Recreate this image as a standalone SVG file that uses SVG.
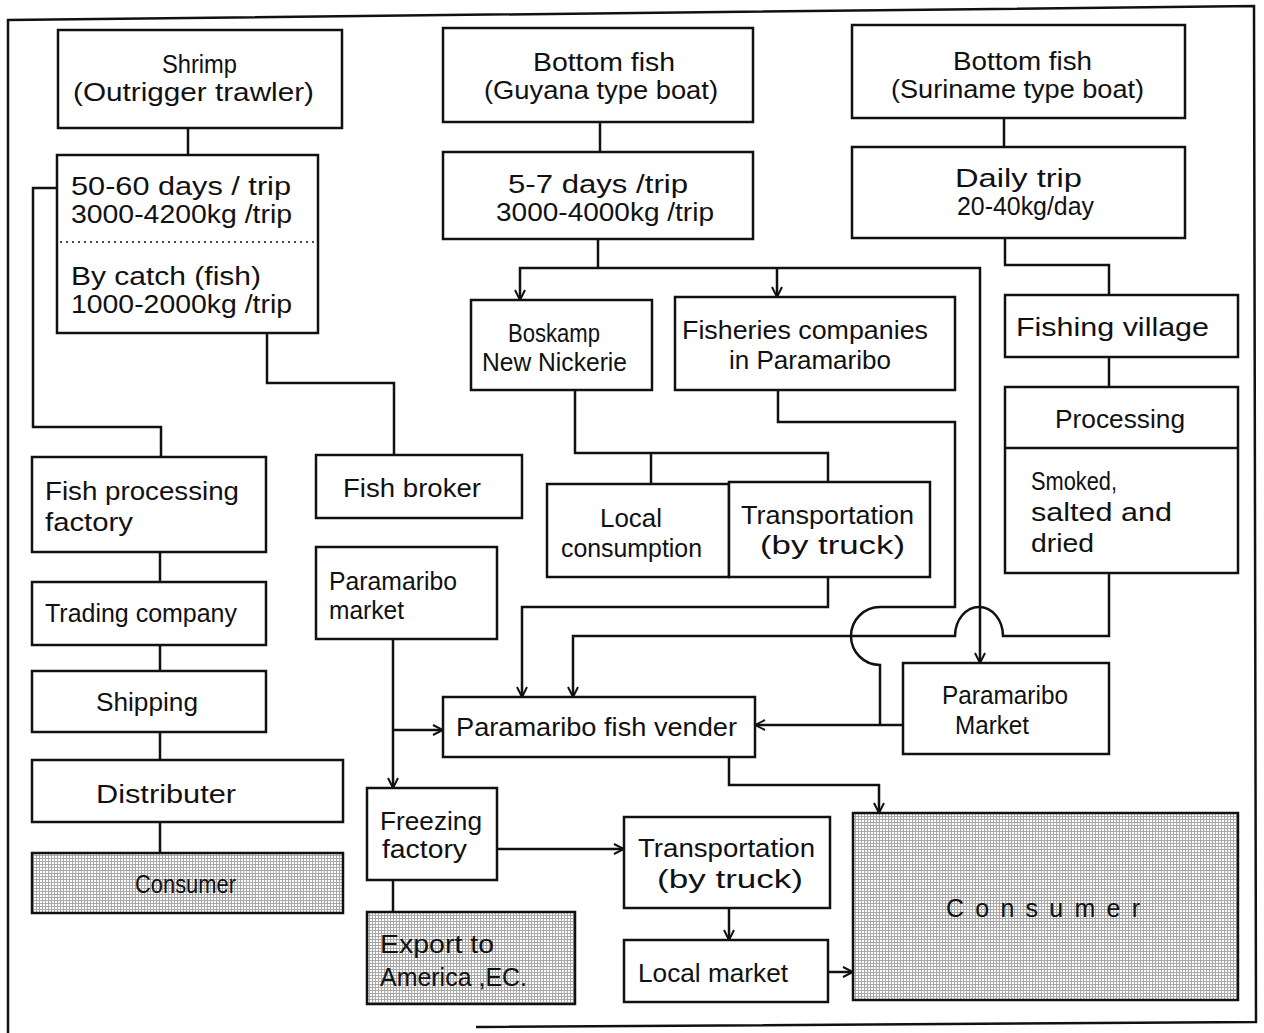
<svg xmlns="http://www.w3.org/2000/svg" width="1264" height="1033" viewBox="0 0 1264 1033">
<style>
.box{fill:#fff;stroke:#111;stroke-width:2.5}
.shade{fill:url(#screen);stroke:#111;stroke-width:2.5}
.t{font-family:"Liberation Sans",Arial,sans-serif;font-size:25px;fill:#111}
.c{fill:none;stroke:#111;stroke-width:2.5}
.a{marker-end:url(#arr)}
.dot{stroke:#111;stroke-width:1.5;stroke-dasharray:2 4}
</style>
<defs>
<pattern id="screen" patternUnits="userSpaceOnUse" width="3" height="3">
<rect width="3" height="3" fill="#fff"/>
<rect width="3" height="1" fill="#a8a8a8"/>
<rect width="1" height="3" fill="#a8a8a8"/>
</pattern>
<marker id="arr" markerUnits="userSpaceOnUse" markerWidth="14" markerHeight="14" refX="12" refY="7" orient="auto">
<path d="M2,2 L12,7 L2,12" fill="none" stroke="#111" stroke-width="2"/>
</marker>
</defs>
<rect width="1264" height="1033" fill="#fff"/>
<path class="c" d="M8,1033 V20 L1254,6 L1256,1022 L476,1027"/>

<g id="connectors">
<path class="c" d="M188,128 V155"/>
<path class="c" d="M57,188 H33 V427 H161 V457"/>
<path class="c" d="M267,333 V383 H394 V455"/>
<path class="c" d="M160,552 V582 M160,645 V671 M160,732 V760 M160,822 V853"/>
<path class="c" d="M600,122 V152"/>
<path class="c" d="M598,239 V268"/>
<path class="c a" d="M598,268 H520 V300"/>
<path class="c a" d="M598,268 H980 V663"/>
<path class="c a" d="M777,268 V297"/>
<path class="c" d="M1004,118 V147"/>
<path class="c" d="M1005,238 V265 H1109 V295"/>
<path class="c" d="M1109,357 V387"/>
<path class="c" d="M575,390 V453 H828 V482"/>
<path class="c" d="M651,453 V484"/>
<path class="c" d="M778,390 V422 H955 V607 H880 A29,29 0 0 0 880,665 V725"/>
<path class="c a" d="M903,725 H755"/>
<path class="c a" d="M828,577 V607 H522 V697"/>
<path class="c a" d="M1109,573 V636 H1003 A24,29 0 0 0 955,636 H573 V697"/>
<path class="c a" d="M393,639 V788"/>
<path class="c a" d="M393,730 H443"/>
<path class="c a" d="M729,757 V785 H879 V813"/>
<path class="c a" d="M497,849 H624"/>
<path class="c" d="M393,880 V912"/>
<path class="c a" d="M729,908 V940"/>
<path class="c a" d="M828,972 H853"/>
</g>

<g id="shrimp">
<rect class="box" x="58" y="30" width="284" height="98"/>
<text class="t" x="162" y="73" textLength="75" lengthAdjust="spacingAndGlyphs">Shrimp</text>
<text class="t" x="73" y="101" textLength="241" lengthAdjust="spacingAndGlyphs">(Outrigger trawler)</text>
</g>
<g id="shrimp-catch">
<rect class="box" x="57" y="155" width="261" height="178"/>
<line class="dot" x1="60" y1="242" x2="316" y2="242"/>
<text class="t" x="71" y="195" textLength="220" lengthAdjust="spacingAndGlyphs">50-60 days / trip</text>
<text class="t" x="71" y="223" textLength="221" lengthAdjust="spacingAndGlyphs">3000-4200kg /trip</text>
<text class="t" x="71" y="285" textLength="190" lengthAdjust="spacingAndGlyphs">By catch (fish)</text>
<text class="t" x="71" y="313" textLength="221" lengthAdjust="spacingAndGlyphs">1000-2000kg /trip</text>
</g>
<g id="guyana">
<rect class="box" x="443" y="28" width="310" height="94"/>
<text class="t" x="533" y="71" textLength="142" lengthAdjust="spacingAndGlyphs">Bottom fish</text>
<text class="t" x="484" y="99" textLength="234" lengthAdjust="spacingAndGlyphs">(Guyana type boat)</text>
</g>
<g id="guyana-catch">
<rect class="box" x="443" y="152" width="310" height="87"/>
<text class="t" x="508" y="193" textLength="180" lengthAdjust="spacingAndGlyphs">5-7 days /trip</text>
<text class="t" x="496" y="221" textLength="218" lengthAdjust="spacingAndGlyphs">3000-4000kg /trip</text>
</g>
<g id="suriname">
<rect class="box" x="852" y="25" width="333" height="93"/>
<text class="t" x="953" y="70" textLength="139" lengthAdjust="spacingAndGlyphs">Bottom fish</text>
<text class="t" x="891" y="98" textLength="253" lengthAdjust="spacingAndGlyphs">(Suriname type boat)</text>
</g>
<g id="daily-trip">
<rect class="box" x="852" y="147" width="333" height="91"/>
<text class="t" x="955" y="187" textLength="127" lengthAdjust="spacingAndGlyphs">Daily trip</text>
<text class="t" x="957" y="215" textLength="137" lengthAdjust="spacingAndGlyphs">20-40kg/day</text>
</g>
<g id="boskamp">
<rect class="box" x="471" y="300" width="181" height="90"/>
<text class="t" x="508" y="342" textLength="92" lengthAdjust="spacingAndGlyphs">Boskamp</text>
<text class="t" x="482" y="371" textLength="145" lengthAdjust="spacingAndGlyphs">New Nickerie</text>
</g>
<g id="fisheries-companies">
<rect class="box" x="675" y="297" width="280" height="93"/>
<text class="t" x="682" y="339" textLength="246" lengthAdjust="spacingAndGlyphs">Fisheries companies</text>
<text class="t" x="729" y="369" textLength="162" lengthAdjust="spacingAndGlyphs">in Paramaribo</text>
</g>
<g id="fishing-village">
<rect class="box" x="1005" y="295" width="233" height="62"/>
<text class="t" x="1016" y="336" textLength="193" lengthAdjust="spacingAndGlyphs">Fishing village</text>
</g>
<g id="processing">
<rect class="box" x="1005" y="387" width="233" height="186"/>
<line class="c" x1="1005" y1="448" x2="1238" y2="448"/>
<text class="t" x="1055" y="428" textLength="130" lengthAdjust="spacingAndGlyphs">Processing</text>
<text class="t" x="1031" y="490" textLength="86" lengthAdjust="spacingAndGlyphs">Smoked,</text>
<text class="t" x="1031" y="521" textLength="141" lengthAdjust="spacingAndGlyphs">salted  and</text>
<text class="t" x="1031" y="552" textLength="63" lengthAdjust="spacingAndGlyphs">dried</text>
</g>
<g id="local-consumption">
<rect class="box" x="547" y="484" width="182" height="93"/>
<text class="t" x="600" y="527" textLength="62" lengthAdjust="spacingAndGlyphs">Local</text>
<text class="t" x="561" y="557" textLength="141" lengthAdjust="spacingAndGlyphs">consumption</text>
</g>
<g id="transportation-1">
<rect class="box" x="729" y="482" width="201" height="95"/>
<text class="t" x="741" y="524" textLength="173" lengthAdjust="spacingAndGlyphs">Transportation</text>
<text class="t" x="760" y="554" textLength="145" lengthAdjust="spacingAndGlyphs">(by truck)</text>
</g>
<g id="fish-processing-factory">
<rect class="box" x="32" y="457" width="234" height="95"/>
<text class="t" x="45" y="500" textLength="194" lengthAdjust="spacingAndGlyphs">Fish processing</text>
<text class="t" x="45" y="531" textLength="88" lengthAdjust="spacingAndGlyphs">factory</text>
</g>
<g id="trading-company">
<rect class="box" x="32" y="582" width="234" height="63"/>
<text class="t" x="45" y="622" textLength="192" lengthAdjust="spacingAndGlyphs">Trading company</text>
</g>
<g id="shipping">
<rect class="box" x="32" y="671" width="234" height="61"/>
<text class="t" x="96" y="711" textLength="102" lengthAdjust="spacingAndGlyphs">Shipping</text>
</g>
<g id="distributer">
<rect class="box" x="32" y="760" width="311" height="62"/>
<text class="t" x="96" y="803" textLength="140" lengthAdjust="spacingAndGlyphs">Distributer</text>
</g>
<g id="consumer-1">
<rect class="shade" x="32" y="853" width="311" height="60"/>
<text class="t" x="135" y="893" textLength="101" lengthAdjust="spacingAndGlyphs">Consumer</text>
</g>
<g id="fish-broker">
<rect class="box" x="316" y="455" width="206" height="63"/>
<text class="t" x="343" y="497" textLength="138" lengthAdjust="spacingAndGlyphs">Fish broker</text>
</g>
<g id="paramaribo-market-1">
<rect class="box" x="316" y="547" width="181" height="92"/>
<text class="t" x="329" y="590" textLength="128" lengthAdjust="spacingAndGlyphs">Paramaribo</text>
<text class="t" x="329" y="619" textLength="75" lengthAdjust="spacingAndGlyphs">market</text>
</g>
<g id="fish-vender">
<rect class="box" x="443" y="697" width="312" height="60"/>
<text class="t" x="456" y="736" textLength="281" lengthAdjust="spacingAndGlyphs">Paramaribo fish vender</text>
</g>
<g id="paramaribo-market-2">
<rect class="box" x="903" y="663" width="206" height="91"/>
<text class="t" x="942" y="704" textLength="126" lengthAdjust="spacingAndGlyphs">Paramaribo</text>
<text class="t" x="955" y="734" textLength="74" lengthAdjust="spacingAndGlyphs">Market</text>
</g>
<g id="freezing-factory">
<rect class="box" x="367" y="788" width="130" height="92"/>
<text class="t" x="380" y="830" textLength="102" lengthAdjust="spacingAndGlyphs">Freezing</text>
<text class="t" x="382" y="858" textLength="85" lengthAdjust="spacingAndGlyphs">factory</text>
</g>
<g id="export">
<rect class="shade" x="367" y="912" width="208" height="92"/>
<text class="t" x="380" y="953" textLength="114" lengthAdjust="spacingAndGlyphs">Export to</text>
<text class="t" x="380" y="986" textLength="147" lengthAdjust="spacingAndGlyphs">America ,EC.</text>
</g>
<g id="transportation-2">
<rect class="box" x="624" y="817" width="206" height="91"/>
<text class="t" x="638" y="857" textLength="177" lengthAdjust="spacingAndGlyphs">Transportation</text>
<text class="t" x="657" y="888" textLength="146" lengthAdjust="spacingAndGlyphs">(by truck)</text>
</g>
<g id="local-market">
<rect class="box" x="624" y="940" width="204" height="62"/>
<text class="t" x="638" y="982" textLength="150" lengthAdjust="spacingAndGlyphs">Local market</text>
</g>
<g id="consumer-2">
<rect class="shade" x="853" y="813" width="385" height="187"/>
<text class="t" x="946" y="917" textLength="194" lengthAdjust="spacing">Consumer</text>
</g>
</svg>
